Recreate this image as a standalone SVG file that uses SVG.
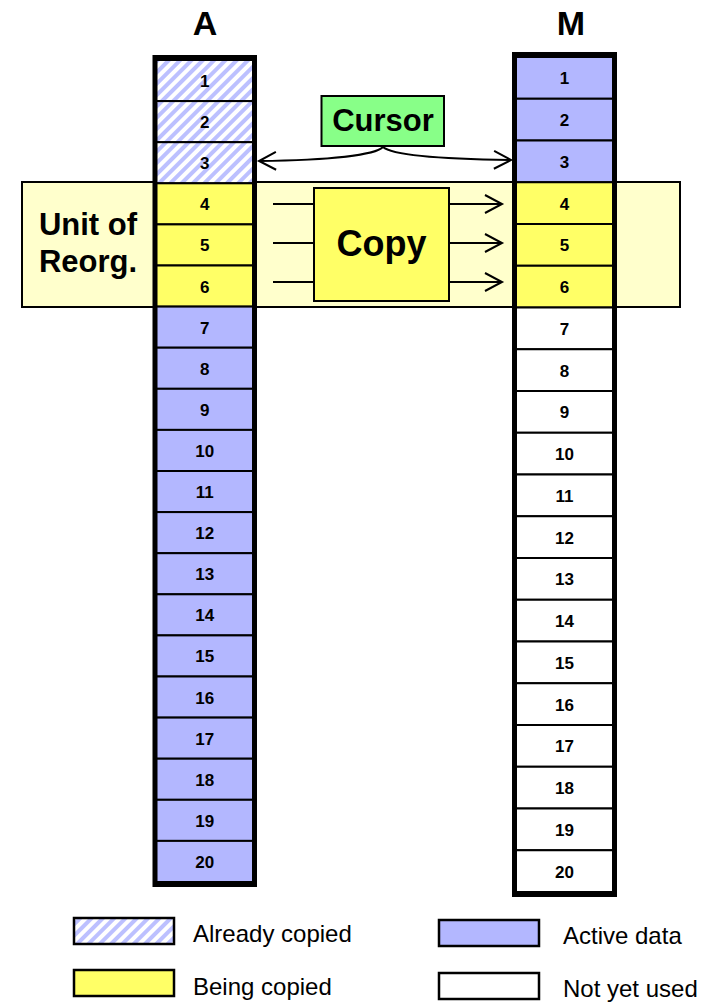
<svg xmlns="http://www.w3.org/2000/svg" width="704" height="1002" viewBox="0 0 704 1002">
  <defs>
    <pattern id="hatch" width="8" height="8" patternUnits="userSpaceOnUse" patternTransform="rotate(45)">
      <rect width="8" height="8" fill="#ffffff"/>
      <rect width="4" height="8" fill="#bcc0ff"/>
    </pattern>
    <marker id="open-arrow" markerUnits="userSpaceOnUse" markerWidth="22" markerHeight="24" viewBox="-19 -11 22 22" refX="0" refY="0" orient="auto">
      <path d="M-17,-9 L0,0 L-17,9" fill="none" stroke="#000" stroke-width="2"/>
    </marker>
    <style>
      .cell { stroke: #000; stroke-width: 2; }
      .done { fill: url(#hatch); }
      .active { fill: #b3b7ff; }
      .copying { fill: #ffff66; }
      .empty { fill: #ffffff; }
      .frame { fill: none; stroke: #000; stroke-width: 5; }
      .num { font-family: "Liberation Sans", Arial, sans-serif; font-weight: bold; font-size: 17px; text-anchor: middle; fill: #000; }
      .head { font-family: "Liberation Sans", Arial, sans-serif; font-weight: bold; font-size: 34px; text-anchor: middle; fill: #000; }
      .big { font-family: "Liberation Sans", Arial, sans-serif; font-weight: bold; text-anchor: middle; fill: #000; }
      .legend-text { font-family: "Liberation Sans", Arial, sans-serif; font-size: 24px; fill: #000; }
      .link { fill: none; stroke: #000; stroke-width: 2; }
      .key { stroke: #000; stroke-width: 2.5; }
    </style>
  </defs>

  <rect width="704" height="1002" fill="#ffffff"/>

  <!-- reorganisation unit band (behind the columns) -->
  <g id="unit-band">
    <rect x="22" y="182" width="658" height="125" fill="#ffffcc" stroke="#000" stroke-width="2"/>
    <text class="big" x="88" y="235" font-size="31">Unit of</text>
    <text class="big" x="88" y="272" font-size="31">Reorg.</text>
  </g>

  <!-- column A -->
  <g id="column-a">
    <text class="head" x="205" y="35">A</text>
    <g id="a-cells">
      <rect class="cell done" x="155" y="60" width="99.5" height="41.1"/>
      <rect class="cell done" x="155" y="101.1" width="99.5" height="41.1"/>
      <rect class="cell done" x="155" y="142.2" width="99.5" height="41.1"/>
      <rect class="cell copying" x="155" y="183.3" width="99.5" height="41.1"/>
      <rect class="cell copying" x="155" y="224.4" width="99.5" height="41.1"/>
      <rect class="cell copying" x="155" y="265.5" width="99.5" height="41.1"/>
      <rect class="cell active" x="155" y="306.6" width="99.5" height="41.1"/>
      <rect class="cell active" x="155" y="347.7" width="99.5" height="41.1"/>
      <rect class="cell active" x="155" y="388.8" width="99.5" height="41.1"/>
      <rect class="cell active" x="155" y="429.9" width="99.5" height="41.1"/>
      <rect class="cell active" x="155" y="471" width="99.5" height="41.1"/>
      <rect class="cell active" x="155" y="512.1" width="99.5" height="41.1"/>
      <rect class="cell active" x="155" y="553.2" width="99.5" height="41.1"/>
      <rect class="cell active" x="155" y="594.3" width="99.5" height="41.1"/>
      <rect class="cell active" x="155" y="635.4" width="99.5" height="41.1"/>
      <rect class="cell active" x="155" y="676.5" width="99.5" height="41.1"/>
      <rect class="cell active" x="155" y="717.6" width="99.5" height="41.1"/>
      <rect class="cell active" x="155" y="758.7" width="99.5" height="41.1"/>
      <rect class="cell active" x="155" y="799.8" width="99.5" height="41.1"/>
      <rect class="cell active" x="155" y="840.9" width="99.5" height="41.1"/>
    </g>
    <rect class="frame" x="155" y="57.5" width="99.5" height="827"/>
    <g id="a-numbers">
      <text class="num" x="204.75" y="87">1</text>
      <text class="num" x="204.75" y="128.1">2</text>
      <text class="num" x="204.75" y="169.2">3</text>
      <text class="num" x="204.75" y="210.3">4</text>
      <text class="num" x="204.75" y="251.4">5</text>
      <text class="num" x="204.75" y="292.5">6</text>
      <text class="num" x="204.75" y="333.6">7</text>
      <text class="num" x="204.75" y="374.7">8</text>
      <text class="num" x="204.75" y="415.8">9</text>
      <text class="num" x="204.75" y="456.9">10</text>
      <text class="num" x="204.75" y="498">11</text>
      <text class="num" x="204.75" y="539.1">12</text>
      <text class="num" x="204.75" y="580.2">13</text>
      <text class="num" x="204.75" y="621.3">14</text>
      <text class="num" x="204.75" y="662.4">15</text>
      <text class="num" x="204.75" y="703.5">16</text>
      <text class="num" x="204.75" y="744.6">17</text>
      <text class="num" x="204.75" y="785.7">18</text>
      <text class="num" x="204.75" y="826.8">19</text>
      <text class="num" x="204.75" y="867.9">20</text>
    </g>
  </g>

  <!-- column M -->
  <g id="column-m">
    <text class="head" x="571" y="35">M</text>
    <g id="m-cells">
      <rect class="cell active" x="514.5" y="57" width="100" height="41.75"/>
      <rect class="cell active" x="514.5" y="98.75" width="100" height="41.75"/>
      <rect class="cell active" x="514.5" y="140.5" width="100" height="41.75"/>
      <rect class="cell copying" x="514.5" y="182.25" width="100" height="41.75"/>
      <rect class="cell copying" x="514.5" y="224" width="100" height="41.75"/>
      <rect class="cell copying" x="514.5" y="265.75" width="100" height="41.75"/>
      <rect class="cell empty" x="514.5" y="307.5" width="100" height="41.75"/>
      <rect class="cell empty" x="514.5" y="349.25" width="100" height="41.75"/>
      <rect class="cell empty" x="514.5" y="391" width="100" height="41.75"/>
      <rect class="cell empty" x="514.5" y="432.75" width="100" height="41.75"/>
      <rect class="cell empty" x="514.5" y="474.5" width="100" height="41.75"/>
      <rect class="cell empty" x="514.5" y="516.25" width="100" height="41.75"/>
      <rect class="cell empty" x="514.5" y="558" width="100" height="41.75"/>
      <rect class="cell empty" x="514.5" y="599.75" width="100" height="41.75"/>
      <rect class="cell empty" x="514.5" y="641.5" width="100" height="41.75"/>
      <rect class="cell empty" x="514.5" y="683.25" width="100" height="41.75"/>
      <rect class="cell empty" x="514.5" y="725" width="100" height="41.75"/>
      <rect class="cell empty" x="514.5" y="766.75" width="100" height="41.75"/>
      <rect class="cell empty" x="514.5" y="808.5" width="100" height="41.75"/>
      <rect class="cell empty" x="514.5" y="850.25" width="100" height="41.75"/>
    </g>
    <rect class="frame" x="514.5" y="54.5" width="100" height="840"/>
    <g id="m-numbers">
      <text class="num" x="564.5" y="84.4">1</text>
      <text class="num" x="564.5" y="126.15">2</text>
      <text class="num" x="564.5" y="167.9">3</text>
      <text class="num" x="564.5" y="209.65">4</text>
      <text class="num" x="564.5" y="251.4">5</text>
      <text class="num" x="564.5" y="293.15">6</text>
      <text class="num" x="564.5" y="334.9">7</text>
      <text class="num" x="564.5" y="376.65">8</text>
      <text class="num" x="564.5" y="418.4">9</text>
      <text class="num" x="564.5" y="460.15">10</text>
      <text class="num" x="564.5" y="501.9">11</text>
      <text class="num" x="564.5" y="543.65">12</text>
      <text class="num" x="564.5" y="585.4">13</text>
      <text class="num" x="564.5" y="627.15">14</text>
      <text class="num" x="564.5" y="668.9">15</text>
      <text class="num" x="564.5" y="710.65">16</text>
      <text class="num" x="564.5" y="752.4">17</text>
      <text class="num" x="564.5" y="794.15">18</text>
      <text class="num" x="564.5" y="835.9">19</text>
      <text class="num" x="564.5" y="877.65">20</text>
    </g>
  </g>

  <!-- copy step -->
  <g id="copy">
    <rect x="314" y="188" width="135" height="113" fill="#ffff66" stroke="#000" stroke-width="2"/>
    <text class="big" x="381.5" y="256" font-size="36">Copy</text>
  </g>

  <!-- cursor -->
  <g id="cursor">
    <rect x="321.5" y="96" width="122.5" height="50" fill="#88ff88" stroke="#000" stroke-width="2"/>
    <text class="big" x="383" y="131" font-size="31">Cursor</text>
  </g>

  <!-- connectors -->
  <g id="connectors">
    <path class="link" d="M383,147 C375,155 330,160 259,161" marker-end="url(#open-arrow)"/>
    <path class="link" d="M383,147 C392,155 440,159 511,160" marker-end="url(#open-arrow)"/>
    <path class="link" d="M273,204 H314"/>
    <path class="link" d="M273,243 H314"/>
    <path class="link" d="M273,282 H314"/>
    <path class="link" d="M449,204 H502" marker-end="url(#open-arrow)"/>
    <path class="link" d="M449,243 H502" marker-end="url(#open-arrow)"/>
    <path class="link" d="M449,282 H502" marker-end="url(#open-arrow)"/>
  </g>

  <!-- legend -->
  <g id="legend">
    <g id="legend-already-copied">
      <rect class="key done" x="74" y="918" width="100" height="26"/>
      <text class="legend-text" x="193" y="942">Already copied</text>
    </g>
    <g id="legend-being-copied">
      <rect class="key copying" x="74" y="970" width="100" height="26"/>
      <text class="legend-text" x="193" y="995">Being copied</text>
    </g>
    <g id="legend-active-data">
      <rect class="key active" x="439" y="920" width="100" height="26"/>
      <text class="legend-text" x="563" y="944">Active data</text>
    </g>
    <g id="legend-not-yet-used">
      <rect class="key empty" x="439" y="973" width="100" height="26"/>
      <text class="legend-text" x="563" y="997">Not yet used</text>
    </g>
  </g>
</svg>
